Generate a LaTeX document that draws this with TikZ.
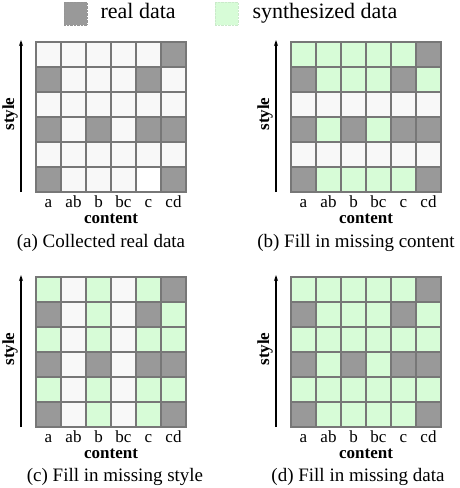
\documentclass[tikz,border=0pt]{standalone}
\usepackage{fontspec}
\setmainfont{Liberation Serif}
\usetikzlibrary{arrows.meta,positioning}
\definecolor{realgray}{HTML}{999999}
\definecolor{synthgreen}{HTML}{D7FCD7}
\definecolor{emptycell}{HTML}{F8F8F8}
\definecolor{gridline}{HTML}{777777}
\tikzset{
  every node/.style={font=\rmfamily},
  cell/.style={draw=gridline, line width=1.4pt, minimum size=25pt, inner sep=0pt},
  cR/.style={cell, fill=realgray},
  cS/.style={cell, fill=synthgreen},
  cW/.style={cell, fill=emptycell},
  cE/.style={cell, fill=white},
  key/.style={minimum size=23pt, inner sep=0pt, draw=#1!85!gray, densely dotted, fill=#1},
  tick/.style={font=\rmfamily\fontsize{17}{17}\selectfont, anchor=base, inner sep=0pt},
  axis/.style={font=\rmfamily\fontsize{17}{17}\selectfont\bfseries, inner sep=0pt},
  caption/.style={font=\rmfamily\fontsize{19}{19}\selectfont, anchor=base},
  legend/.style={font=\rmfamily\fontsize{22}{22}\selectfont, anchor=base west},
  up/.style={-{Stealth[length=6pt,width=4pt]}, line width=1.2pt},
}
% one panel: #1 name, #2/#3 top-left corner, #4 rows from the top
\newcommand{\panel}[4]{
  \foreach \row [count=\j from 0] in {#4}
    \foreach \c [count=\i from 0] in \row
      \node[c\c] (#1-\i-\j) at (#2+12.5+25*\i, #3+12.5+25*\j) {};
  \foreach \lab [count=\i from 0] in {a,ab,b,bc,c,cd}
    \node[tick] (#1-t\i) at (#2+12.5+25*\i, #3+165.5) {\lab};
  \node[axis, anchor=base] (#1-content) at (#2+75, #3+181) {content};
  \coordinate (#1-lo) at (#2-15, #3+150);
  \coordinate (#1-hi) at (#2-15, #3-2);
  \draw[up] (#1-lo) -- (#1-hi);
  \node[axis, rotate=90] (#1-style) at (#2-26, #3+72) {style};
}

\begin{document}
\begin{tikzpicture}[x=1pt, y=-1pt]
  \useasboundingbox (0,0) rectangle (460,488);
  % legend
  \node[key=realgray] (kreal) at (75.5,13.5) {};
  \node[legend] (treal) at (97,18.3) {real data};
  \node[key=synthgreen] (ksynth) at (226.5,13.5) {};
  \node[legend] (tsynth) at (249,18.3) {synthesized data};
  % panels
  \panel{pa}{36}{42}{{W,W,W,W,W,R},{R,W,W,W,R,W},{W,W,W,W,W,W},{R,W,R,W,R,R},{W,W,W,W,W,W},{R,W,W,W,E,R}}
  \panel{pb}{291}{42}{{S,S,S,S,S,R},{R,S,S,S,R,S},{W,W,W,W,W,W},{R,S,R,S,R,R},{W,W,W,W,W,W},{R,S,S,S,S,R}}
  \panel{pc}{36}{277}{{S,W,S,W,S,R},{R,W,S,W,R,S},{S,W,S,W,S,S},{R,W,R,W,R,R},{S,W,S,W,S,S},{R,W,S,W,S,R}}
  \panel{pd}{291}{277}{{S,S,S,S,S,R},{R,S,S,S,R,S},{S,S,S,S,S,S},{R,S,R,S,R,R},{S,S,S,S,S,S},{R,S,S,S,S,R}}
  % captions
  \node[caption] (capa) at (101,247.7) {(a) Collected real data};
  \node[caption] (capb) at (356,247.7) {(b) Fill in missing content};
  \node[caption] (capc) at (115,481.7) {(c) Fill in missing style};
  \node[caption] (capd) at (358,481.7) {(d) Fill in missing data};
\end{tikzpicture}
\end{document}
